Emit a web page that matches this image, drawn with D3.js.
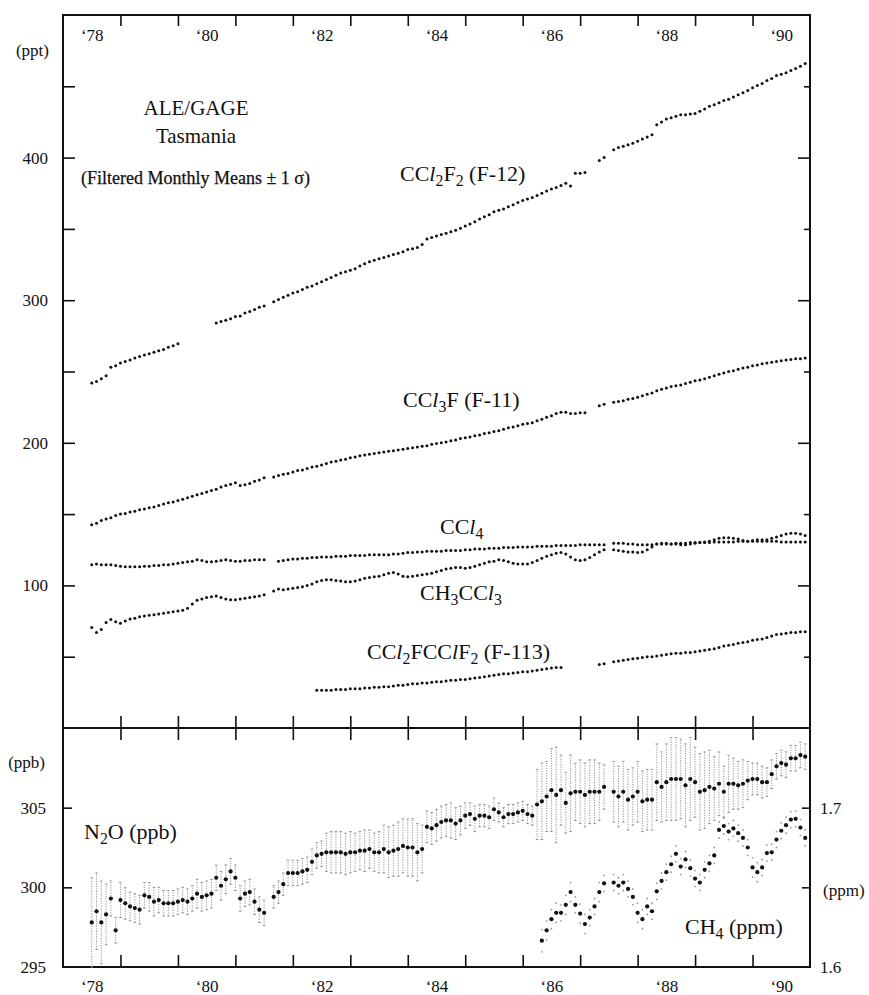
<!DOCTYPE html>
<html>
<head>
<meta charset="utf-8">
<script src="https://cdn.jsdelivr.net/npm/d3@7"></script>
<style>
body { margin: 0; background: #fff; }
svg, svg text { font-family: "Liberation Serif", "Times New Roman", serif; }
</style>
</head>
<body>
<svg id="chart"></svg>
<script>
// monthly means, first value = July 1978
const firstMonth = 1978.5;
const serif = '"Liberation Serif", "Times New Roman", serif';

const yearLabels = ['‘78', '‘80', '‘82', '‘84', '‘86', '‘88', '‘90'];
const labelYears = [1978, 1980, 1982, 1984, 1986, 1988, 1990];
const yearTicks = [1979, 1980, 1981, 1982, 1983, 1984, 1985, 1986, 1987, 1988, 1989, 1990];
const pptLabels = [100, 200, 300, 400];
const pptTicks = [50, 100, 150, 200, 250, 300, 350, 400, 450];
const ppbLabels = [295, 300, 305];
const ppmLabels = [1.6, 1.7];

const f12 = [
  242, 243, 245, 247, 253, 254, 256, 257, 258, 259.5, 260.5, 261.5,
  262.5, 263.5, 264.5, 265.5, 267, 268, 269.5, null, null, null, null, null,
  null, null, 284, 285, 286, 287, 288.5, 289, 291, 292, 293.5, 295,
  296, null, 299, 300.5, 302, 303.5, 305, 306, 307.5, 309, 310, 311.5,
  313, 314.5, 316, 317.5, 319, 320, 321, 322, 324, 325.5, 327, 328,
  329, 330, 331, 332, 333, 334, 335.5, 336, 337, 339, 343, 344,
  345, 346, 347, 348, 349, 350.5, 352, 353.5, 355, 357, 358.5, 360,
  362, 363, 364, 365.5, 367, 368.5, 370, 371, 372, 373.5, 375, 376.5,
  378, 379, 380.5, 382, 380, 389, 389, 389.5, null, null, 398, 400,
  null, 405.5, 407, 408, 409, 410, 411.5, 413, 414.5, 416, 423, 425,
  427, 428, 429, 430, 430, 430.5, 431, 432.5, 434, 436, 437, 438.5,
  440, 441, 442.5, 444, 445.5, 447, 449, 450.5, 452, 454, 455.5, 457.5,
  458.5, 459.5, 461, 462.5, 464, 466
];

const f11 = [
  142.5, 143.5, 145.5, 146.5, 147.5, 149, 150, 150.5, 151.5, 152, 153, 153.5,
  154.5, 155, 156, 157, 158, 158.5, 159.5, 160.5, 161.5, 162.5, 163.5, 164.5,
  165.5, 166.5, 167.5, 169, 170, 171, 172, 170, 170.5, 171.5, 173, 174,
  175.5, null, 176, 177, 178, 178.5, 179.5, 180.5, 181, 182, 183, 183.5,
  184.5, 185.5, 186.5, 187, 188, 188.5, 189.5, 190, 191, 191.5, 192, 192.5,
  193, 193.5, 194, 194.5, 195, 195.5, 196, 196.5, 197, 197.5, 198, 199,
  199.5, 200, 200.5, 201.5, 202, 203, 203.5, 204, 205, 205.5, 206.5, 207,
  208, 208.5, 209.5, 210.5, 211, 212, 213, 213.5, 214, 215.5, 216.5, 218,
  219, 220.5, 221.5, 221.5, 220.5, 220.5, 221, 221, null, null, 226, 227,
  null, 228.5, 229, 229.5, 230.5, 231, 232, 233, 234, 235, 236.5, 237.5,
  238.5, 239.5, 240, 240.5, 241.5, 242.5, 243.5, 244, 245, 246, 247, 248,
  249, 250, 250.5, 251.5, 252.5, 253, 254, 254.5, 255.5, 256, 256.5, 257,
  257.5, 258, 258.5, 259, 259, 259.5
];

const ccl4 = [
  114.5, 115, 114.5, 114.5, 114.5, 114, 113.5, 113, 113, 113, 113, 113.5,
  113.5, 114, 114, 114.5, 114.5, 115, 115.5, 116, 116.5, 117, 118, 117.5,
  116.5, 116.5, 117, 117.5, 118, 117.5, 117, 117, 117.5, 117.5, 118, 118,
  118, null, null, 117, 117.5, 118, 118.5, 118.5, 119, 119, 119.5, 119.5,
  120, 120, 120, 120.5, 120.5, 120.5, 121, 121, 121, 121, 121.5, 121.5,
  121.5, 121.5, 121.5, 122, 122, 122.5, 123, 123, 123.5, 123.5, 124, 124,
  124, 124, 124.5, 124.5, 124.5, 124.5, 125, 125, 125.5, 125.5, 125.5, 126,
  126, 126, 126.5, 126.5, 126.5, 127, 127, 127, 127, 127.5, 127.5, 127.5,
  127.5, 128, 128, 128, 128, 128, 128.5, 128.5, 128.5, 128.5, 128.5, 128.5,
  null, 129.5, 129.5, 129.5, 129, 129, 128.5, 128.5, 128.5, 128.5, 129, 129,
  129, 129, 129.5, 129.5, 129.5, 130, 130, 130, 130, 130, 130.5, 130.5,
  130.5, 130.5, 130.5, 131, 131, 131, 131, 131, 131, 131, 131, 131,
  130.5, 130.5, 130.5, 130.5, 130.5, 130.5
];

const ch3ccl3 = [
  70.5, 67, 69, 74, 76, 74.5, 73.5, 75, 76.5, 77, 78, 78.5,
  79, 79.5, 80, 80.5, 81, 81.5, 82, 82.5, 84, 87, 89.5, 90.5,
  91.5, 92, 92.5, 91.5, 90.5, 90, 90, 90.5, 91, 91.5, 92, 92.5,
  93.5, null, 96, 97.5, 97, 97.5, 98, 98.5, 99, 100, 101, 102.5,
  103.5, 104, 104, 103.5, 103, 102.5, 102.5, 103, 104, 105, 105.5, 106,
  106.5, 107.5, 108.5, 109, 108, 106.5, 106, 106.5, 107, 107.5, 108, 108.5,
  109.5, 110.5, 111.5, 112, 112.5, 112.5, 112, 112.5, 113.5, 114.5, 115.5, 116.5,
  117, 118, 117.5, 116.5, 115.5, 115, 115, 115, 116, 117.5, 119, 120.5,
  121.5, 122.5, 123, 122, 120, 118, 117.5, 118, 119.5, 121.5, 123.5, 125,
  null, 125, 124.5, 124, 123.5, 123.5, 123, 123.5, 125, 127, 129, 129.5,
  129.5, 129, 129, 128.5, 128.5, 129, 129.5, 130, 130.5, 131, 132, 133,
  133.5, 133.5, 133, 132.5, 131.5, 131, 131.5, 132, 132, 132, 133, 134,
  135, 136, 136.5, 136.5, 136, 135
];

const f113 = [
  null, null, null, null, null, null, null, null, null, null, null, null,
  null, null, null, null, null, null, null, null, null, null, null, null,
  null, null, null, null, null, null, null, null, null, null, null, null,
  null, null, null, null, null, null, null, null, null, null, null, 26.5,
  26.5, 26.5, 26.5, 27, 27, 27, 27.5, 27.5, 27.5, 28, 28, 28.5,
  28.5, 29, 29, 29.5, 30, 30, 30.5, 31, 31, 31.5, 31.5, 32,
  32.5, 32.5, 33, 33.5, 33.5, 34, 34, 34.5, 35, 35.5, 36, 36.5,
  37, 37.5, 38, 38, 38.5, 39, 39.5, 39.5, 40, 40.5, 41, 41.5,
  42, 42.5, 42.5, null, null, null, null, null, null, null, 44.5, 45,
  null, 46.5, 47, 47.5, 48, 48.5, 49, 49.5, 50, 50, 50.5, 51,
  51.5, 52, 52.5, 52.5, 53, 53, 53.5, 54, 54.5, 55, 55.5, 56.5,
  57.5, 58, 58.5, 59.5, 60, 60.5, 61.5, 62, 62.5, 63.5, 64.5, 65.5,
  66, 66.5, 67, 67, 67.5, 67.5
];

const n2o = [
  297.8, 298.5, 297.8, 298.3, 299.3, 297.3, 299.2, 299.0, 298.8, 298.7, 298.6, 299.5,
  299.4, 299.1, 299.2, 299.0, 299.0, 299.0, 299.1, 299.2, 299.1, 299.3, 299.6, 299.4,
  299.5, 299.6, 300.6, 300.1, 300.5, 301.0, 300.6, 299.3, 299.6, 299.7, 299.1, 298.6,
  298.4, null, 299.4, 299.7, 300.2, 300.9, 300.9, 300.9, 301.0, 301.1, 301.6, 302.0,
  302.1, 302.2, 302.2, 302.2, 302.2, 302.1, 302.2, 302.2, 302.3, 302.3, 302.4, 302.2,
  302.2, 302.4, 302.2, 302.3, 302.4, 302.6, 302.5, 302.5, 302.2, 302.4, 303.8, 303.7,
  303.9, 304.1, 304.2, 304.2, 304.0, 304.2, 304.5, 304.6, 304.3, 304.5, 304.5, 304.4,
  304.9, 304.7, 304.4, 304.6, 304.6, 304.7, 304.8, 304.6, 304.5, 305.2, 305.4, 305.7,
  306.1, 305.8, 306.1, 305.3, 305.9, 306.0, 306.0, 305.8, 306.0, 306.0, 306.0, 306.3,
  null, 306.0, 305.7, 306.0, 305.5, 305.7, 306.0, 305.4, 305.5, 305.5, 306.6, 306.3,
  306.6, 306.8, 306.8, 306.8, 306.4, 306.8, 306.6, 306.0, 306.1, 306.3, 306.2, 306.5,
  306.0, 306.5, 306.5, 306.4, 306.5, 306.7, 306.8, 306.8, 306.6, 306.6, 307.1, 307.6,
  307.8, 307.7, 308.1, 308.1, 308.3, 308.2
];

const n2oSd = [
  2.8, 2.4, 2.6, 1.9, 1.1, 0.8, 1.1, 1.0, 0.9, 0.9, 0.9, 0.8,
  0.9, 0.9, 0.8, 0.8, 0.8, 0.8, 0.8, 0.8, 0.8, 0.8, 0.9, 0.9,
  0.9, 0.9, 0.8, 0.9, 0.9, 0.8, 0.8, 0.8, 0.8, 0.8, 0.8, 0.8,
  0.8, null, 0.7, 0.7, 0.7, 0.8, 0.8, 0.8, 0.8, 0.8, 0.8, 0.8,
  0.8, 1.2, 1.3, 1.3, 1.3, 1.3, 1.3, 1.2, 1.2, 1.3, 1.2, 1.2,
  1.3, 1.5, 1.6, 1.6, 1.7, 1.7, 1.8, 1.8, 1.8, 1.5, 1.0, 1.0,
  1.0, 1.0, 1.0, 1.1, 1.0, 0.9, 0.8, 0.7, 0.8, 0.7, 0.7, 0.7,
  0.7, 0.6, 0.6, 0.6, 0.6, 0.6, 0.6, 0.6, 0.6, 2.2, 2.4, 2.2,
  2.6, 3.0, 2.2, 1.9, 2.4, 1.8, 2.0, 2.0, 2.0, 2.0, 1.8, 1.4,
  null, 1.9, 1.9, 1.9, 1.9, 1.8, 1.9, 1.9, 1.9, 1.9, 2.4, 2.2,
  2.4, 2.6, 2.6, 2.5, 2.6, 2.6, 2.2, 2.4, 2.4, 2.3, 2.0, 2.0,
  1.6, 1.8, 1.6, 1.5, 1.5, 1.2, 1.0, 1.0, 1.0, 0.9, 0.9, 0.8,
  0.8, 0.8, 0.8, 0.8, 0.8, 0.8
];

const ch4 = [
  null, null, null, null, null, null, null, null, null, null, null, null,
  null, null, null, null, null, null, null, null, null, null, null, null,
  null, null, null, null, null, null, null, null, null, null, null, null,
  null, null, null, null, null, null, null, null, null, null, null, null,
  null, null, null, null, null, null, null, null, null, null, null, null,
  null, null, null, null, null, null, null, null, null, null, null, null,
  null, null, null, null, null, null, null, null, null, null, null, null,
  null, null, null, null, null, null, null, null, null, null, 1.6165, 1.623,
  1.630, 1.634, 1.634, 1.639, 1.647, 1.639, 1.6335, 1.627, 1.631, 1.638, 1.647, 1.6525,
  null, 1.653, 1.651, 1.653, 1.649, 1.644, 1.634, 1.630, 1.638, 1.635, 1.6475, 1.654,
  1.6595, 1.6645, 1.671, 1.663, 1.6675, 1.662, 1.6555, 1.653, 1.661, 1.665, 1.670, 1.686,
  1.6885, 1.685, 1.687, 1.684, 1.681, 1.675, 1.6625, 1.6595, 1.6625, 1.6715, 1.672, 1.680,
  1.6855, 1.689, 1.6925, 1.693, 1.6875, 1.681
];

const ch4Sd = [
  0.005, 0.005, 0.005, 0.005, 0.005, 0.005, 0.005, 0.005, 0.005, 0.005, 0.005, 0.005,
  0.005, 0.005, 0.005, 0.005, 0.005, 0.005, 0.005, 0.005, 0.005, 0.005, 0.005, 0.005,
  0.005, 0.005, 0.005, 0.005, 0.005, 0.005, 0.005, 0.005, 0.005, 0.005, 0.005, 0.005,
  0.005, 0.005, 0.005, 0.005, 0.005, 0.005, 0.005, 0.005, 0.005, 0.005, 0.005, 0.005,
  0.005, 0.005, 0.005, 0.005, 0.005, 0.005, 0.005, 0.005, 0.005, 0.005, 0.005, 0.005,
  0.005, 0.005, 0.005, 0.005, 0.005, 0.005, 0.005, 0.005, 0.005, 0.005, 0.005, 0.005,
  0.005, 0.005, 0.005, 0.005, 0.005, 0.005, 0.005, 0.005, 0.005, 0.005, 0.005, 0.005,
  0.005, 0.005, 0.005, 0.005, 0.005, 0.005, 0.005, 0.005, 0.005, 0.005, 0.007, 0.006,
  0.006, 0.006, 0.005, 0.006, 0.006, 0.005, 0.006, 0.006, 0.005, 0.005, 0.006, 0.005,
  null, 0.005, 0.005, 0.005, 0.005, 0.005, 0.006, 0.006, 0.005, 0.005, 0.005, 0.005,
  0.005, 0.005, 0.005, 0.005, 0.005, 0.005, 0.005, 0.005, 0.005, 0.005, 0.005, 0.005,
  0.005, 0.005, 0.005, 0.005, 0.005, 0.005, 0.006, 0.006, 0.005, 0.005, 0.005, 0.005,
  0.005, 0.005, 0.005, 0.005, 0.005, 0.005
];

const width = 869, height = 995;
const frame = {left: 63, right: 810, top: 15, mid: 728, bottom: 967};

const svg = d3.select('#chart')
  .attr('width', width)
  .attr('height', height)
  .attr('font-family', serif);

svg.append('rect').attr('width', width).attr('height', height).attr('fill', '#fff');

const x = d3.scaleLinear().domain([1978, 1991]).range([frame.left, frame.right]);
const yPpt = d3.scaleLinear().domain([0, 500]).range([frame.mid, frame.top]);
const yPpb = d3.scaleLinear().domain([295, 310]).range([frame.bottom, frame.mid]);
const yPpm = d3.scaleLinear().domain([1.6, 1.75]).range([frame.bottom, frame.mid]);

const monthly = (vals, sd) => vals
  .map((v, i) => ({t: firstMonth + i / 12, v: v, s: sd ? sd[i] : 0}))
  .filter(d => d.v != null);

function clean(g) {
  g.attr('font-family', serif).attr('font-size', 17);
  g.select('.domain').remove();
  g.selectAll('line').attr('stroke', '#111').attr('stroke-width', 1.6);
  g.selectAll('text').attr('fill', '#111').attr('font-family', serif);
}

// year ticks on the top edge, the panel divider and the bottom edge
svg.append('g').attr('transform', `translate(0,${frame.top})`)
  .call(d3.axisBottom(x).tickValues(yearTicks).tickSize(11).tickFormat('')).call(clean);
svg.append('g').attr('transform', `translate(0,${frame.top})`)
  .call(d3.axisBottom(x).tickValues(labelYears.map(d => d + 0.5)).tickSize(0).tickPadding(14)
    .tickFormat((d, i) => yearLabels[i])).call(clean);
svg.append('g').attr('transform', `translate(0,${frame.mid})`)
  .call(d3.axisBottom(x).tickValues(yearTicks).tickSize(12).tickFormat('')).call(clean);
svg.append('g').attr('transform', `translate(0,${frame.mid})`)
  .call(d3.axisTop(x).tickValues(yearTicks).tickSize(12).tickFormat('')).call(clean);
svg.append('g').attr('transform', `translate(0,${frame.bottom})`)
  .call(d3.axisTop(x).tickValues(yearTicks).tickSize(12).tickFormat('')).call(clean);
svg.append('g').attr('transform', `translate(0,${frame.bottom})`)
  .call(d3.axisBottom(x).tickValues(labelYears.map(d => d + 0.5)).tickSize(0).tickPadding(13)
    .tickFormat((d, i) => yearLabels[i])).call(clean);

// ppt axis
svg.append('g').attr('transform', `translate(${frame.left},0)`)
  .call(d3.axisRight(yPpt).tickValues(pptTicks).tickSize(12).tickFormat('')).call(clean);
svg.append('g').attr('transform', `translate(${frame.left},0)`)
  .call(d3.axisLeft(yPpt).tickValues(pptLabels).tickSize(0).tickPadding(15)).call(clean);
svg.append('g').attr('transform', `translate(${frame.right},0)`)
  .call(d3.axisLeft(yPpt).tickValues(pptLabels).tickSize(12).tickFormat('')).call(clean);
svg.append('g').attr('transform', `translate(${frame.right},0)`)
  .call(d3.axisLeft(yPpt).tickValues(pptTicks.filter(d => d % 100)).tickSize(6).tickFormat('')).call(clean);

// ppb and ppm axes
svg.append('g').attr('transform', `translate(${frame.left},0)`)
  .call(d3.axisRight(yPpb).tickValues([300, 305]).tickSize(9).tickFormat('')).call(clean);
svg.append('g').attr('transform', `translate(${frame.left},0)`)
  .call(d3.axisLeft(yPpb).tickValues(ppbLabels).tickSize(0).tickPadding(17)).call(clean);
svg.append('g').attr('transform', `translate(${frame.right},0)`)
  .call(d3.axisLeft(yPpm).tickValues([1.65, 1.7]).tickSize(8).tickFormat('')).call(clean);
svg.append('g').attr('transform', `translate(${frame.right},0)`)
  .call(d3.axisRight(yPpm).tickValues(ppmLabels).tickSize(0).tickPadding(10)
    .tickFormat(d3.format('.1f'))).call(clean);

// frame
svg.append('rect')
  .attr('x', frame.left).attr('y', frame.top)
  .attr('width', frame.right - frame.left).attr('height', frame.bottom - frame.top)
  .attr('fill', 'none').attr('stroke', '#111').attr('stroke-width', 2);
svg.append('line')
  .attr('x1', frame.left).attr('x2', frame.right).attr('y1', frame.mid).attr('y2', frame.mid)
  .attr('stroke', '#111').attr('stroke-width', 2);

// plain text labels
function label(x0, y0, txt, size, anchor) {
  return svg.append('text').attr('x', x0).attr('y', y0)
    .attr('font-family', serif).attr('font-size', size)
    .attr('text-anchor', anchor || 'start').attr('fill', '#111').text(txt);
}

label(49, 56, '(ppt)', 17, 'end');
label(45, 768, '(ppb)', 17, 'end');
label(823, 896, '(ppm)', 17);

// halocarbons
const halo = svg.append('g');
[f12, f11, ccl4, ch3ccl3, f113].forEach(series => {
  halo.append('g').selectAll('circle')
    .data(monthly(series))
    .enter().append('circle')
    .attr('cx', d => x(d.t))
    .attr('cy', d => yPpt(d.v))
    .attr('r', 1.5)
    .attr('fill', '#111');
});

// N2O with +/- 1 sigma bars
const n2oData = monthly(n2o, n2oSd);
const bars = svg.append('g').attr('stroke', '#8c8c8c').attr('stroke-width', 0.9);
bars.selectAll('line.bar')
  .data(n2oData)
  .enter().append('line')
  .attr('class', 'bar')
  .attr('x1', d => x(d.t)).attr('x2', d => x(d.t))
  .attr('y1', d => yPpb(d.v - d.s)).attr('y2', d => yPpb(d.v + d.s))
  .attr('stroke-dasharray', '1.2,1.3');
[1, -1].forEach(sign => {
  bars.selectAll('line.cap' + (sign > 0 ? 'hi' : 'lo'))
    .data(n2oData)
    .enter().append('line')
    .attr('class', 'cap' + (sign > 0 ? 'hi' : 'lo'))
    .attr('x1', d => x(d.t) - 1.3).attr('x2', d => x(d.t) + 1.3)
    .attr('y1', d => yPpb(d.v + sign * d.s))
    .attr('y2', d => yPpb(d.v + sign * d.s));
});
svg.append('g').selectAll('circle')
  .data(n2oData)
  .enter().append('circle')
  .attr('cx', d => x(d.t)).attr('cy', d => yPpb(d.v))
  .attr('r', 2.1).attr('fill', '#111');

// CH4 with faint sigma dots
const ch4Data = monthly(ch4, ch4Sd);
svg.append('g').selectAll('circle')
  .data(ch4Data.flatMap(d => [{t: d.t, v: d.v + d.s}, {t: d.t, v: d.v - d.s}]))
  .enter().append('circle')
  .attr('cx', d => x(d.t)).attr('cy', d => yPpm(d.v))
  .attr('r', 0.9).attr('fill', '#9a9a9a');
svg.append('g').selectAll('circle')
  .data(ch4Data)
  .enter().append('circle')
  .attr('cx', d => x(d.t)).attr('cy', d => yPpm(d.v))
  .attr('r', 2.1).attr('fill', '#111');

// text with italic l and subscripts
function formula(x0, y0, parts, size) {
  const t = label(x0, y0, null, size);
  let down = false;
  parts.forEach(p => {
    const s = t.append('tspan').text(p[0]);
    if (p[1] === 's') {
      s.attr('font-size', size * 0.72);
      if (!down) s.attr('dy', size * 0.22);
      down = true;
    } else if (down) {
      s.attr('dy', -size * 0.22);
      down = false;
    }
    if (p[1] === 'i') s.attr('font-style', 'italic');
  });
}

label(196, 115, 'ALE/GAGE', 21, 'middle');
label(196, 143, 'Tasmania', 21, 'middle');
label(81, 184, '(Filtered Monthly Means ± 1 σ)', 18)
  .attr('stroke', '#111').attr('stroke-width', 0.25);

formula(400, 181, [['CC'], ['l', 'i'], ['2', 's'], ['F'], ['2', 's'], [' (F-12)']], 22);
formula(403, 407, [['CC'], ['l', 'i'], ['3', 's'], ['F (F-11)']], 22);
formula(440, 534, [['CC'], ['l', 'i'], ['4', 's']], 22);
formula(420, 600, [['CH'], ['3', 's'], ['CC'], ['l', 'i'], ['3', 's']], 22);
formula(367, 659, [['CC'], ['l', 'i'], ['2', 's'], ['FCC'], ['l', 'i'], ['F'], ['2', 's'], [' (F-113)']], 22);
formula(84, 839, [['N'], ['2', 's'], ['O (ppb)']], 22);
formula(685, 934, [['CH'], ['4', 's'], [' (ppm)']], 22);
</script>
</body>
</html>
